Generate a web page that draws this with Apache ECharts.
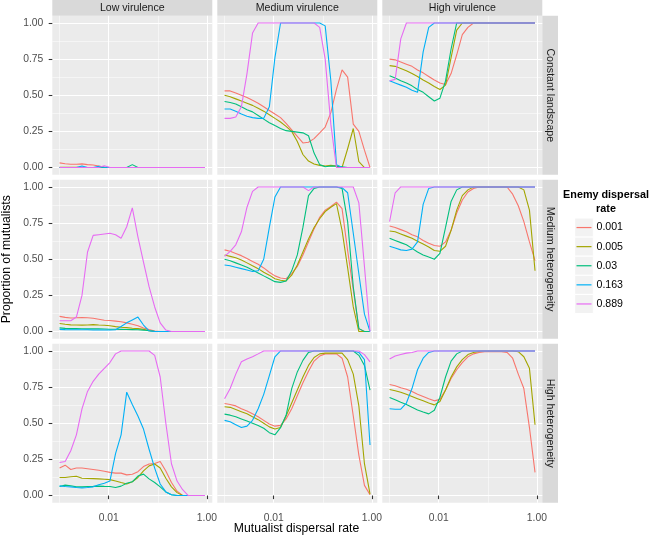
<!DOCTYPE html>
<html><head><meta charset="utf-8">
<script src="https://cdn.jsdelivr.net/npm/echarts@6/dist/echarts.min.js"></script>
<style>html,body{margin:0;padding:0;background:#fff}#c{width:651px;height:544px}</style>
</head><body><div id="c"></div>
<script>
// ---- data ----
const mutualistRates = [0.001,0.0013,0.00169,0.0022,0.00286,0.00371,0.00483,0.00627,0.00816,0.0106,0.0138,0.0179,0.0233,0.0303,0.0394,0.0512,0.0665,0.0865,0.112,0.146,0.190,0.247,0.321,0.418,0.543,0.706,0.917];
const enemyRates = ['0.001','0.005','0.03','0.163','0.889'];
const virulence = ['Low virulence','Medium virulence','High virulence'];
const landscapes = ['Constant landscape','Medium heterogeneity','High heterogeneity'];
const xBreaks = [0.01, 1];
const xMinorBreaks = [0.001, 0.1];
const yBreaks = [0, 0.25, 0.5, 0.75, 1];
const yMinorBreaks = [0.125, 0.375, 0.625, 0.875];

// rows: enemy dispersal 0.001, 0.005, 0.03, 0.163, 0.889
const constLow = [
 [0.032,0.026,0.023,0.023,0.025,0.020,0.017,0.010,0.003, 0,0,0,0,0,0,0,0,0, 0,0,0,0,0,0,0,0,0],
 [0.002,0.002,0.002,0.002,0.001,0,0,0,0, 0,0,0,0,0,0,0,0,0, 0,0,0,0,0,0,0,0,0],
 [0,0,0,0,0,0,0,0,0, 0,0,0,0,0.02,0,0,0,0, 0,0,0,0,0,0,0,0,0],
 [0,0,0,0,0.01,0,0,0.008,0.002, 0,0,0,0,0,0,0,0,0, 0,0,0,0,0,0,0,0,0],
 [0,0,0,0,0,0,0,0,0.012, 0,0,0,0,0,0,0,0,0, 0,0,0,0,0,0,0,0,0]
];
const constMed = [
 [0.53,0.53,0.515,0.50,0.485,0.465,0.445,0.42,0.395, 0.37,0.345,0.305,0.26,0.215,0.17,0.175,0.20,0.24, 0.28,0.38,0.54,0.675,0.625,0.30,0.25,0.12,0],
 [0.50,0.49,0.475,0.46,0.445,0.43,0.41,0.39,0.365, 0.34,0.315,0.285,0.25,0.18,0.09,0.045,0.025,0.015, 0.01,0.015,0.01,0,0.13,0.27,0.04,0,0],
 [0.457,0.45,0.44,0.42,0.40,0.385,0.36,0.335,0.31, 0.29,0.27,0.255,0.25,0.245,0.24,0.22,0.10,0.02, 0.005,0.01,0.01,0.005,0,0,0,0,0],
 [0.405,0.405,0.39,0.37,0.355,0.345,0.34,0.34,0.42, 0.76,1,1,1,1,1,1,1,1, 0.98,0.6,0.02,0,0,0,0,0,0],
 [0.34,0.34,0.35,0.42,0.65,0.93,1,1,1, 1,1,1,1,1,1,1,1,0.97, 0.75,0.3,0,0,0,0,0,0,0]
];
const constHigh = [
 [0.75,0.745,0.73,0.715,0.70,0.675,0.655,0.63,0.605, 0.585,0.575,0.65,0.78,0.92,0.97,1,1,1, 1,1,1,1,1,1,1,1,1],
 [0.705,0.70,0.685,0.67,0.65,0.63,0.605,0.585,0.56, 0.54,0.57,0.76,0.95,1,1,1,1,1, 1,1,1,1,1,1,1,1,1],
 [0.635,0.62,0.60,0.585,0.565,0.54,0.52,0.49,0.46, 0.48,0.60,0.82,1,1,1,1,1,1, 1,1,1,1,1,1,1,1,1],
 [0.60,0.585,0.57,0.555,0.535,0.52,0.80,0.97,1, 1,1,1,1,1,1,1,1,1, 1,1,1,1,1,1,1,1,1],
 [0.60,0.61,0.89,1,1,1,1,1,1, 1,1,1,1,1,1,1,1,1, 1,1,1,1,1,1,1,1,1]
];
const medLow = [
 [0.105,0.098,0.094,0.095,0.097,0.095,0.092,0.085,0.078, 0.076,0.072,0.068,0.06,0.05,0.04,0.025,0.013,0.003, 0,0,0,0,0,0,0,0,0],
 [0.055,0.05,0.046,0.045,0.044,0.045,0.048,0.045,0.043, 0.04,0.034,0.03,0.027,0.023,0.02,0.015,0.005,0, 0,0,0,0,0,0,0,0,0],
 [0.025,0.022,0.02,0.02,0.019,0.018,0.018,0.018,0.017, 0.016,0.016,0.015,0.014,0.013,0.012,0.01,0.005,0.002, 0,0,0,0,0,0,0,0,0],
 [0.015,0.013,0.012,0.012,0.012,0.012,0.011,0.011,0.011, 0.011,0.012,0.035,0.06,0.08,0.10,0.045,0.005,0, 0,0,0,0,0,0,0,0,0],
 [0.075,0.075,0.075,0.10,0.25,0.55,0.665,0.67,0.675, 0.68,0.67,0.645,0.725,0.855,0.655,0.48,0.31,0.17, 0.06,0.01,0,0,0,0,0,0,0]
];
const medMed = [
 [0.565,0.555,0.54,0.525,0.505,0.485,0.465,0.44,0.41, 0.385,0.37,0.365,0.40,0.45,0.53,0.62,0.71,0.79, 0.84,0.865,0.895,0.85,0.56,0.29,0.02,0,0],
 [0.53,0.52,0.51,0.495,0.475,0.455,0.435,0.41,0.39, 0.365,0.355,0.35,0.39,0.46,0.55,0.64,0.72,0.78, 0.83,0.86,0.885,0.70,0.44,0.17,0,0,0],
 [0.50,0.49,0.475,0.46,0.445,0.425,0.405,0.385,0.365, 0.345,0.34,0.35,0.42,0.53,0.72,0.94,0.99,1, 1,1,1,0.99,0.76,0.31,0.02,0,0],
 [0.46,0.455,0.445,0.435,0.425,0.415,0.42,0.50,0.72, 0.93,1,1,1,1,1,1,1,1, 1,1,1,0.995,0.96,0.68,0.40,0.12,0],
 [0.52,0.555,0.60,0.69,0.86,0.97,1,1,1, 1,1,1,1,1,1,0.975,1,1, 1,1,1,1,1,1,0.89,0.45,0]
];
const medHigh = [
 [0.73,0.72,0.705,0.69,0.67,0.655,0.63,0.61,0.595, 0.59,0.62,0.70,0.82,0.91,0.965,0.99,1,1, 1,1,1,1,0.95,0.87,0.76,0.62,0.49],
 [0.695,0.69,0.675,0.66,0.645,0.625,0.605,0.585,0.56, 0.555,0.59,0.70,0.84,0.94,0.98,1,1,1, 1,1,1,1,1,1,0.98,0.84,0.42],
 [0.645,0.63,0.615,0.60,0.575,0.55,0.53,0.515,0.50, 0.54,0.72,0.90,0.98,1,1,1,1,1, 1,1,1,1,1,1,1,1,1],
 [0.59,0.578,0.565,0.56,0.57,0.62,0.88,0.99,1, 1,1,1,1,1,1,1,1,1, 1,1,1,1,1,1,1,1,1],
 [0.76,0.96,1,1,1,1,1,1,1, 1,1,1,1,1,1,1,1,1, 1,1,1,1,1,1,1,1,1]
];
const highLow = [
 [0.19,0.21,0.18,0.19,0.19,0.185,0.18,0.175,0.168, 0.16,0.155,0.155,0.143,0.147,0.165,0.20,0.218,0.222, 0.235,0.17,0.09,0.03,0,0,0,0,0],
 [0.125,0.125,0.13,0.133,0.12,0.118,0.117,0.115,0.113, 0.11,0.10,0.09,0.08,0.095,0.125,0.17,0.205,0.218, 0.19,0.12,0.06,0.02,0,0,0,0,0],
 [0.062,0.072,0.068,0.06,0.06,0.062,0.063,0.065,0.063, 0.062,0.055,0.065,0.085,0.095,0.135,0.148,0.115,0.09, 0.06,0.025,0.005,0,0,0,0,0,0],
 [0.067,0.062,0.06,0.055,0.053,0.055,0.06,0.075,0.085, 0.10,0.29,0.42,0.715,0.63,0.55,0.46,0.32,0.19, 0.08,0.025,0.005,0,0,0,0,0,0],
 [0.228,0.235,0.31,0.42,0.60,0.72,0.79,0.84,0.88, 0.92,0.98,1,1,1,1,1,1,0.97, 0.82,0.50,0.22,0.10,0.04,0,0,0,0]
];
const highMed = [
 [0.637,0.63,0.62,0.60,0.585,0.565,0.545,0.52,0.495, 0.48,0.485,0.53,0.60,0.69,0.78,0.86,0.93,0.965, 0.98,0.98,0.98,0.95,0.82,0.55,0.28,0.07,0.005],
 [0.614,0.61,0.595,0.58,0.565,0.545,0.525,0.50,0.475, 0.46,0.47,0.55,0.64,0.73,0.82,0.90,0.955,0.98, 0.985,0.985,0.985,0.985,0.94,0.84,0.62,0.22,0.01],
 [0.563,0.556,0.545,0.53,0.515,0.50,0.485,0.465,0.435, 0.42,0.47,0.555,0.74,0.855,0.935,0.99,1,1, 1,1,1,1,1,1,0.97,0.90,0.73],
 [0.52,0.51,0.49,0.47,0.48,0.52,0.60,0.70,0.83, 0.96,1,1,1,1,1,1,1,1, 1,1,1,1,1,1,0.99,0.94,0.35],
 [0.67,0.74,0.84,0.925,0.945,0.96,0.98,1,1, 1,1,1,1,1,1,1,1,1, 1,1,1,1,1,1,1,0.975,0.925]
];
const highHigh = [
 [0.768,0.76,0.745,0.735,0.72,0.70,0.685,0.67,0.655, 0.665,0.73,0.81,0.87,0.92,0.96,0.98,0.99,0.995, 0.995,0.995,0.995,0.99,0.95,0.84,0.74,0.47,0.16],
 [0.733,0.725,0.715,0.70,0.685,0.67,0.655,0.64,0.627, 0.65,0.73,0.82,0.89,0.94,0.975,0.99,0.997,1, 1,1,1,1,1,0.995,0.96,0.88,0.49],
 [0.678,0.662,0.645,0.63,0.61,0.592,0.578,0.565,0.59, 0.68,0.82,0.93,0.98,1,1,1,1,1, 1,1,1,1,1,1,1,1,1],
 [0.60,0.597,0.598,0.64,0.74,0.87,0.95,0.99,1, 1,1,1,1,1,1,1,1,1, 1,1,1,1,1,1,1,1,1],
 [0.945,0.965,0.975,0.985,0.99,1,1,1,1, 1,1,1,1,1,1,1,1,1, 1,1,1,1,1,1,1,1,1]
];

// ---- presentation ----
const colors = ['#F8766D','#A3A500','#00BF7D','#00B0F6','#E76BF3'];
const FONT = '"Liberation Sans", Arial, Helvetica, sans-serif';
const panels = [[constLow, constMed, constHigh],[medLow, medMed, medHigh],[highLow, highMed, highHigh]];
const colL = [52.3, 217.3, 382.3], rowT = [15.75, 179.75, 343.75], PW = 160, PH = 159;

const lx = Math.log10(mutualistRates[0]), hx = Math.log10(mutualistRates[mutualistRates.length-1]);
const pad = 0.05 * (hx - lx);
const xMin = Math.pow(10, lx - pad), xMax = Math.pow(10, hx + pad);
const yMin = -0.05, yMax = 1.05;

const grids = [], xAxes = [], yAxes = [], series = [];
for (let r = 0; r < 3; r++) {
  for (let c = 0; c < 3; c++) {
    const gi = r * 3 + c;
    grids.push({left: colL[c], top: rowT[r], width: PW, height: PH, show: true,
      backgroundColor: '#EBEBEB', borderWidth: 0, containLabel: false, outerBoundsMode: 'none'});
    xAxes.push({type: 'log', logBase: 10, gridIndex: gi, min: xMin, max: xMax, position: 'bottom',
      axisLine: {show: false},
      axisTick: {show: r === 2, customValues: xBreaks, length: 3.6, lineStyle: {color: '#333333', width: 1.07}},
      axisLabel: {show: r === 2, customValues: xBreaks, formatter: v => Number(v).toFixed(2),
        color: '#4D4D4D', fontSize: 10.3, fontFamily: FONT, margin: 10.5},
      splitLine: {show: true, lineStyle: {color: '#FFFFFF', width: 1.07}}, z: 1});
    xAxes.push({type: 'log', logBase: 10, gridIndex: gi, min: xMin, max: xMax, position: 'top',
      axisLine: {show: false},
      axisTick: {show: false, customValues: xMinorBreaks},
      axisLabel: {show: false, customValues: xMinorBreaks},
      splitLine: {show: true, lineStyle: {color: '#FFFFFF', width: 0.53}}, z: 0});
    yAxes.push({type: 'value', gridIndex: gi, min: yMin, max: yMax, position: 'left',
      axisLine: {show: false},
      axisTick: {show: c === 0, customValues: yBreaks, length: 3.6, lineStyle: {color: '#333333', width: 1.07}},
      axisLabel: {show: c === 0, customValues: yBreaks, formatter: v => Number(v).toFixed(2),
        color: '#4D4D4D', fontSize: 10.3, fontFamily: FONT, margin: 9},
      splitLine: {show: true, lineStyle: {color: '#FFFFFF', width: 1.07}}, z: 1});
    yAxes.push({type: 'value', gridIndex: gi, min: yMin, max: yMax, position: 'right',
      axisLine: {show: false},
      axisTick: {show: false, customValues: yMinorBreaks},
      axisLabel: {show: false, customValues: yMinorBreaks},
      splitLine: {show: true, lineStyle: {color: '#FFFFFF', width: 0.53}}, z: 0});
    const panel = panels[r][c];
    panel.forEach((vals, j) => {
      series.push({type: 'line', name: enemyRates[j], xAxisIndex: 2 * gi, yAxisIndex: 2 * gi,
        data: mutualistRates.map((x, k) => [x, vals[k]]),
        color: colors[j], showSymbol: false, symbol: 'none', silent: true, z: 2 + j,
        lineStyle: {width: 1.1, color: colors[j]}, itemStyle: {color: colors[j]}});
    });
  }
}

const graphic = [];
for (let c = 0; c < 3; c++) {
  graphic.push({type: 'rect', silent: true, shape: {x: colL[c], y: 0, width: PW, height: 15.75}, style: {fill: '#D9D9D9'}});
  graphic.push({type: 'text', silent: true, x: colL[c] + PW / 2, y: 8,
    style: {text: virulence[c], fill: '#1A1A1A', fontSize: 10.6, fontFamily: FONT,
      align: 'center', verticalAlign: 'middle', textAlign: 'center', textVerticalAlign: 'middle'}});
}
const stripX = colL[2] + PW;
for (let r = 0; r < 3; r++) {
  graphic.push({type: 'rect', silent: true, shape: {x: stripX, y: rowT[r], width: 15.7, height: PH}, style: {fill: '#D9D9D9'}});
  graphic.push({type: 'text', silent: true, x: stripX + 7.85, y: rowT[r] + PH / 2, rotation: -Math.PI / 2,
    style: {text: landscapes[r], fill: '#1A1A1A', fontSize: 10.6, fontFamily: FONT,
      align: 'center', verticalAlign: 'middle', textAlign: 'center', textVerticalAlign: 'middle'}});
}
// axis titles
graphic.push({type: 'text', silent: true, x: 6.7, y: (rowT[0] + rowT[2] + PH) / 2, rotation: Math.PI / 2,
  style: {text: 'Proportion of mutualists', fill: '#000000', fontSize: 12.2, fontFamily: FONT,
    align: 'center', verticalAlign: 'middle', textAlign: 'center', textVerticalAlign: 'middle'}});
graphic.push({type: 'text', silent: true, x: 296.5, y: 528.3,
  style: {text: 'Mutualist dispersal rate', fill: '#000000', fontSize: 12.2, fontFamily: FONT,
    align: 'center', verticalAlign: 'middle', textAlign: 'center', textVerticalAlign: 'middle'}});
// legend title + key backgrounds
graphic.push({type: 'text', silent: true, x: 606, y: 188,
  style: {text: 'Enemy dispersal\nrate', fill: '#000000', fontSize: 10.8, fontWeight: 'bold', fontFamily: FONT,
    lineHeight: 14.3, align: 'center', verticalAlign: 'top', textAlign: 'center', textVerticalAlign: 'top'}});
const keyH = 19.1, keyTop = 218;
for (let j = 0; j < enemyRates.length; j++) {
  graphic.push({type: 'rect', silent: true, shape: {x: 574.7, y: keyTop + j * keyH, width: 18.6, height: keyH},
    style: {fill: '#F2F2F2', stroke: '#FFFFFF', lineWidth: 1}});
}

const chart = echarts.init(document.getElementById('c'), null, {renderer: 'canvas'});
chart.setOption({
  animation: false,
  backgroundColor: '#FFFFFF',
  grid: grids, xAxis: xAxes, yAxis: yAxes, series: series,
  legend: {show: true, orient: 'vertical', left: 576.5, top: keyTop, padding: 0,
    itemWidth: 15, itemHeight: 1.2, itemGap: 0, icon: 'rect', selectedMode: false,
    itemStyle: {borderWidth: 0},
    textStyle: {fontSize: 10.6, color: '#000000', fontFamily: FONT, lineHeight: keyH},
    data: enemyRates},
  graphic: graphic
});
</script>
</body></html>
